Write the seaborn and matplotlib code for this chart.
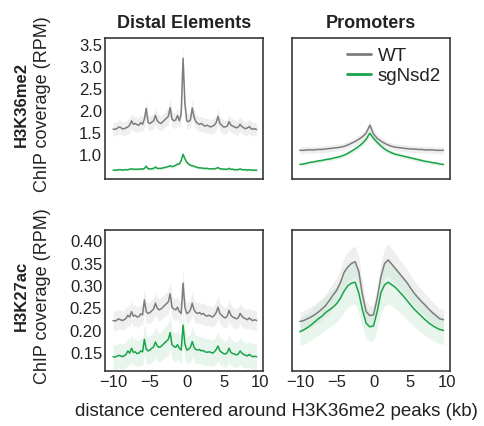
import numpy as np
import matplotlib
matplotlib.use("Agg")
import matplotlib.pyplot as plt
import seaborn as sns

# bin centres (kb)
x_distal = np.arange(-10, 9.75, 0.25)
x_prom = np.arange(-10, 10, 0.5)

# H3K36me2, distal elements
k36_distal_wt = [
    1.57, 1.57, 1.58, 1.62, 1.61, 1.58, 1.58, 1.60, 1.62, 1.66,
    1.76, 1.68, 1.70, 1.67, 1.66, 1.72, 1.68, 1.80, 2.04, 1.72,
    1.70, 1.73, 1.76, 1.88, 1.76, 1.72, 1.70, 1.74, 1.78, 1.82,
    1.86, 2.06, 1.80, 1.76, 1.78, 1.88, 1.76, 1.92, 3.18, 2.15,
    1.76, 1.74, 1.78, 2.05, 1.84, 1.74, 1.70, 1.68, 1.70, 1.66,
    1.64, 1.66, 1.64, 1.62, 1.64, 1.66, 1.72, 1.86, 1.70, 1.66,
    1.62, 1.62, 1.64, 1.74, 1.66, 1.64, 1.62, 1.60, 1.62, 1.68,
    1.63, 1.60, 1.58, 1.60, 1.63, 1.58, 1.57, 1.58, 1.56]
k36_distal_sg = [
    0.64, 0.64, 0.64, 0.65, 0.65, 0.64, 0.65, 0.65, 0.65, 0.66,
    0.67, 0.66, 0.66, 0.66, 0.66, 0.67, 0.66, 0.68, 0.73, 0.67,
    0.67, 0.67, 0.68, 0.71, 0.68, 0.68, 0.68, 0.69, 0.70, 0.71,
    0.72, 0.74, 0.72, 0.73, 0.75, 0.78, 0.78, 0.86, 1.00, 0.90,
    0.82, 0.78, 0.75, 0.74, 0.73, 0.71, 0.70, 0.69, 0.69, 0.68,
    0.68, 0.68, 0.67, 0.67, 0.67, 0.67, 0.68, 0.70, 0.67, 0.67,
    0.66, 0.66, 0.66, 0.68, 0.66, 0.66, 0.65, 0.65, 0.65, 0.67,
    0.65, 0.65, 0.65, 0.64, 0.65, 0.64, 0.64, 0.64, 0.64]

# H3K36me2, promoters
k36_prom_wt = [
    1.09, 1.09, 1.10, 1.10, 1.10, 1.11, 1.11, 1.12, 1.13, 1.14,
    1.15, 1.16, 1.18, 1.21, 1.25, 1.29, 1.34, 1.40, 1.48, 1.66,
    1.46, 1.36, 1.30, 1.25, 1.21, 1.18, 1.16, 1.15, 1.14, 1.13,
    1.12, 1.12, 1.11, 1.11, 1.10, 1.10, 1.10, 1.09, 1.09, 1.09]
k36_prom_sg = [
    0.77, 0.78, 0.80, 0.82, 0.83, 0.85, 0.86, 0.88, 0.89, 0.91,
    0.93, 0.95, 0.98, 1.02, 1.07, 1.12, 1.18, 1.25, 1.34, 1.48,
    1.36, 1.27, 1.19, 1.12, 1.07, 1.03, 1.00, 0.98, 0.96, 0.94,
    0.92, 0.90, 0.88, 0.86, 0.84, 0.83, 0.81, 0.80, 0.78, 0.77]

# H3K27ac, distal elements
k27_distal_wt = [
    0.220, 0.219, 0.221, 0.224, 0.222, 0.220, 0.222, 0.225, 0.232, 0.228,
    0.240, 0.230, 0.232, 0.228, 0.229, 0.235, 0.233, 0.266, 0.240, 0.236,
    0.238, 0.242, 0.246, 0.259, 0.248, 0.244, 0.246, 0.250, 0.254, 0.258,
    0.262, 0.280, 0.250, 0.246, 0.244, 0.250, 0.240, 0.236, 0.304, 0.250,
    0.236, 0.238, 0.244, 0.259, 0.244, 0.238, 0.236, 0.238, 0.234, 0.236,
    0.232, 0.230, 0.232, 0.230, 0.228, 0.232, 0.238, 0.250, 0.236, 0.232,
    0.228, 0.226, 0.230, 0.243, 0.232, 0.228, 0.226, 0.224, 0.226, 0.236,
    0.230, 0.226, 0.224, 0.222, 0.226, 0.222, 0.220, 0.222, 0.220]
k27_distal_sg = [
    0.139, 0.138, 0.140, 0.142, 0.141, 0.139, 0.141, 0.144, 0.152, 0.147,
    0.158, 0.149, 0.150, 0.146, 0.147, 0.152, 0.150, 0.178, 0.156, 0.152,
    0.154, 0.158, 0.161, 0.172, 0.163, 0.160, 0.162, 0.166, 0.170, 0.174,
    0.178, 0.193, 0.166, 0.162, 0.160, 0.166, 0.158, 0.154, 0.210, 0.168,
    0.154, 0.156, 0.160, 0.173, 0.160, 0.155, 0.154, 0.155, 0.152, 0.153,
    0.150, 0.149, 0.150, 0.149, 0.147, 0.150, 0.155, 0.163, 0.152, 0.149,
    0.146, 0.145, 0.148, 0.158, 0.149, 0.146, 0.145, 0.143, 0.145, 0.152,
    0.147, 0.144, 0.142, 0.141, 0.144, 0.141, 0.139, 0.140, 0.139]

# H3K27ac, promoters
k27_prom_wt = [
    0.218, 0.220, 0.224, 0.228, 0.233, 0.239, 0.246, 0.254, 0.265, 0.277,
    0.288, 0.305, 0.328, 0.340, 0.348, 0.352, 0.330, 0.278, 0.240, 0.231,
    0.233, 0.270, 0.318, 0.348, 0.356, 0.346, 0.336, 0.326, 0.316, 0.306,
    0.294, 0.282, 0.272, 0.263, 0.255, 0.246, 0.238, 0.231, 0.224, 0.222]
k27_prom_sg = [
    0.195, 0.199, 0.204, 0.210, 0.217, 0.224, 0.230, 0.238, 0.244, 0.250,
    0.258, 0.270, 0.286, 0.298, 0.304, 0.306, 0.282, 0.244, 0.214, 0.206,
    0.208, 0.240, 0.282, 0.300, 0.306, 0.300, 0.294, 0.285, 0.276, 0.266,
    0.256, 0.246, 0.238, 0.230, 0.222, 0.215, 0.209, 0.204, 0.200, 0.198]

# spread of the shaded band, as a fraction of the signal
band_k36 = {"WT": (0.10, 0.07), "sgNsd2": (0.05, 0.05)}   # (distal, promoters)
band_k27 = {"WT": (0.10, 0.10), "sgNsd2": (0.20, 0.16)}

col_titles = ["Distal Elements", "Promoters"]
row_titles = ["H3K36me2", "H3K27ac"]
colors = {"WT": "#7d7d7d", "sgNsd2": "#19a447"}
band_colors = {"WT": "#d9d9d9", "sgNsd2": "#c4e8d0"}

sns.set_theme(style="white")
plt.rcParams["font.family"] = ["Liberation Sans", "DejaVu Sans"]
plt.rcParams["axes.edgecolor"] = "#3a3a3a"
plt.rcParams["axes.linewidth"] = 1.2
plt.rcParams["text.color"] = "#222222"
plt.rcParams["xtick.color"] = "#222222"
plt.rcParams["ytick.color"] = "#222222"

fig, axes = plt.subplots(2, 2, figsize=(4.85, 4.27), dpi=100,
                         sharex=True, sharey="row")
fig.subplots_adjust(left=0.2165, right=0.928, top=0.9087, bottom=0.1288,
                    wspace=0.18, hspace=0.355)

panels = [
    [(x_distal, k36_distal_wt, k36_distal_sg, band_k36, 0),
     (x_prom, k36_prom_wt, k36_prom_sg, band_k36, 1)],
    [(x_distal, k27_distal_wt, k27_distal_sg, band_k27, 0),
     (x_prom, k27_prom_wt, k27_prom_sg, band_k27, 1)],
]

for r in range(2):
    for c in range(2):
        ax = axes[r, c]
        xs, wt, sg, bands, k = panels[r][c]
        for name, vals in [("WT", wt), ("sgNsd2", sg)]:
            vals = np.asarray(vals)
            f = bands[name][k]
            ax.fill_between(xs, vals * (1 - f), vals * (1 + f),
                            color=band_colors[name], alpha=0.4, lw=0)
            sns.lineplot(x=xs, y=vals, ax=ax, color=colors[name], lw=1.1,
                         label=name if (r == 0 and c == 1) else None,
                         legend=(r == 0 and c == 1))
        ax.tick_params(labelsize=12, pad=2, length=0)
        if r == 0:
            ax.set_title(col_titles[c], fontsize=13, fontweight="bold", pad=8)

axes[0, 0].set_xlim(-11.1, 10.4)
axes[0, 0].set_xticks([-10, -5, 0, 5, 10])
axes[0, 0].set_ylim(0.43, 3.64)
axes[0, 0].set_yticks([1.0, 1.5, 2.0, 2.5, 3.0, 3.5])
axes[1, 0].set_ylim(0.107, 0.424)
axes[1, 0].set_yticks([0.15, 0.20, 0.25, 0.30, 0.35, 0.40])

leg = axes[0, 1].legend(loc="upper right", frameon=False, fontsize=13.5,
                        handlelength=1.3, handletextpad=0.35, labelspacing=0.15,
                        borderaxespad=0.1)
for line in leg.get_lines():
    line.set_linewidth(2.0)

for r in range(2):
    ymid = 1 - ((39, 230)[r] + (180, 372)[r]) / 2 / 427
    fig.text(21 / 485, ymid + 0.012, row_titles[r], rotation=90, fontsize=12,
             fontweight="bold", ha="center", va="center")
    fig.text(43 / 485, ymid + 0.012, "ChIP coverage (RPM)", rotation=90,
             fontsize=13, ha="center", va="center")

fig.text(276 / 485, 1 - 412 / 427,
         "distance centered around H3K36me2 peaks (kb)",
         fontsize=13.5, ha="center", va="center")

fig.savefig("out.png", dpi=100)
